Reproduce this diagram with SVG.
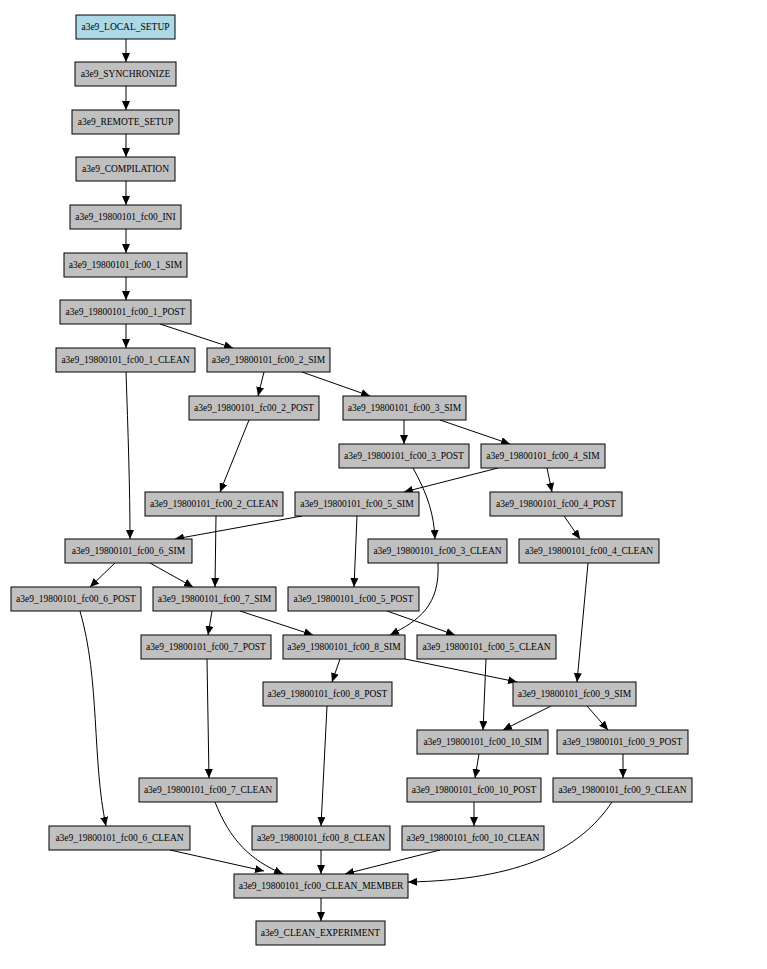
<svg xmlns="http://www.w3.org/2000/svg" width="767" height="969" viewBox="0 0 767 969">
<style>
.n rect{fill:#c0c0c0;stroke:#000;stroke-width:1}
.n.s rect{fill:#add8e6}
.n text{font-family:"Liberation Serif",serif;font-size:9.5px;text-anchor:middle;dominant-baseline:central;fill:#000}
#edges path{fill:none;stroke:#000;stroke-width:1;marker-end:url(#a)}
</style>
<defs><marker id="a" markerUnits="userSpaceOnUse" markerWidth="10" markerHeight="8" refX="9" refY="4" orient="auto"><path d="M0,0 L9,4 L0,8 z" fill="#000"/></marker></defs>
<g id="edges">
<path d="M126,39 L126,62"/><path d="M126,86 L126,110"/><path d="M126,134 L126,157"/><path d="M126,181 L126,205"/><path d="M126,229 L126,253"/><path d="M126,277 L126,300"/><path d="M126,324 L126,348"/>
<path d="M160,324 L233,348"/>
<path d="M126,372 C128,430 130,490 130,539"/>
<path d="M264,372 L258,396"/>
<path d="M302,372 L370,396"/>
<path d="M404,420 L404,444"/>
<path d="M440,420 L510,444"/>
<path d="M249,420 L220,492"/>
<path d="M498,468 L404,492"/>
<path d="M547,468 L552,492"/>
<path d="M413,468 C428,495 434,515 435,539"/>
<path d="M302,516 L175,539"/>
<path d="M564,516 L580,539"/>
<path d="M216,516 L215,587"/>
<path d="M357,516 L354,587"/>
<path d="M115,563 L90,587"/>
<path d="M150,563 L193,587"/>
<path d="M588,563 L577,682"/>
<path d="M438,563 C440,605 420,620 390,635"/>
<path d="M212,611 L208,635"/>
<path d="M240,611 L313,635"/>
<path d="M387,611 L455,635"/>
<path d="M340,659 L332,682"/>
<path d="M405,659 L517,682"/>
<path d="M486,659 L483,730"/>
<path d="M551,706 L503,730"/>
<path d="M587,706 L608,730"/>
<path d="M80,611 C100,680 92,760 106,826"/>
<path d="M207,659 L209,778"/>
<path d="M327,706 L321,826"/>
<path d="M479,754 L475,778"/>
<path d="M623,754 L623,778"/>
<path d="M474,802 L474,826"/>
<path d="M215,802 C230,840 250,860 283,874"/>
<path d="M170,850 L264,871"/>
<path d="M321,850 L321,874"/>
<path d="M440,850 L345,874"/>
<path d="M612,802 C580,850 520,880 408,882"/>
<path d="M321,898 L321,921"/>
</g>
<g id="LOCAL_SETUP" class="n s"><rect x="76" y="15" width="99" height="24"/><text x="125.5" y="27">a3e9_LOCAL_SETUP</text></g>
<g id="SYNCHRONIZE" class="n"><rect x="75" y="62" width="101" height="24"/><text x="125.5" y="74">a3e9_SYNCHRONIZE</text></g>
<g id="REMOTE_SETUP" class="n"><rect x="72" y="110" width="107" height="24"/><text x="125.5" y="122">a3e9_REMOTE_SETUP</text></g>
<g id="COMPILATION" class="n"><rect x="76" y="157" width="99" height="24"/><text x="125.5" y="169">a3e9_COMPILATION</text></g>
<g id="INI" class="n"><rect x="70" y="205" width="111" height="24"/><text x="125.5" y="217">a3e9_19800101_fc00_INI</text></g>
<g id="SIM1" class="n"><rect x="64" y="253" width="123" height="24"/><text x="125.5" y="265">a3e9_19800101_fc00_1_SIM</text></g>
<g id="POST1" class="n"><rect x="60" y="300" width="131" height="24"/><text x="125.5" y="312">a3e9_19800101_fc00_1_POST</text></g>
<g id="CLEAN1" class="n"><rect x="56" y="348" width="139" height="24"/><text x="125.5" y="360">a3e9_19800101_fc00_1_CLEAN</text></g>
<g id="SIM2" class="n"><rect x="207" y="348" width="123" height="24"/><text x="268.5" y="360">a3e9_19800101_fc00_2_SIM</text></g>
<g id="POST2" class="n"><rect x="189" y="396" width="130" height="24"/><text x="254" y="408">a3e9_19800101_fc00_2_POST</text></g>
<g id="SIM3" class="n"><rect x="343" y="396" width="123" height="24"/><text x="404.5" y="408">a3e9_19800101_fc00_3_SIM</text></g>
<g id="POST3" class="n"><rect x="339" y="444" width="130" height="24"/><text x="404" y="456">a3e9_19800101_fc00_3_POST</text></g>
<g id="SIM4" class="n"><rect x="481" y="444" width="124" height="24"/><text x="543" y="456">a3e9_19800101_fc00_4_SIM</text></g>
<g id="CLEAN2" class="n"><rect x="145" y="492" width="138" height="24"/><text x="214" y="504">a3e9_19800101_fc00_2_CLEAN</text></g>
<g id="SIM5" class="n"><rect x="295" y="492" width="124" height="24"/><text x="357" y="504">a3e9_19800101_fc00_5_SIM</text></g>
<g id="POST4" class="n"><rect x="490" y="492" width="132" height="24"/><text x="556" y="504">a3e9_19800101_fc00_4_POST</text></g>
<g id="SIM6" class="n"><rect x="65" y="539" width="127" height="24"/><text x="128.5" y="551">a3e9_19800101_fc00_6_SIM</text></g>
<g id="CLEAN3" class="n"><rect x="368" y="539" width="139" height="24"/><text x="437.5" y="551">a3e9_19800101_fc00_3_CLEAN</text></g>
<g id="CLEAN4" class="n"><rect x="519" y="539" width="140" height="24"/><text x="589" y="551">a3e9_19800101_fc00_4_CLEAN</text></g>
<g id="POST6" class="n"><rect x="11" y="587" width="130" height="24"/><text x="76" y="599">a3e9_19800101_fc00_6_POST</text></g>
<g id="SIM7" class="n"><rect x="153" y="587" width="123" height="24"/><text x="214.5" y="599">a3e9_19800101_fc00_7_SIM</text></g>
<g id="POST5" class="n"><rect x="288" y="587" width="131" height="24"/><text x="353.5" y="599">a3e9_19800101_fc00_5_POST</text></g>
<g id="POST7" class="n"><rect x="141" y="635" width="130" height="24"/><text x="206" y="647">a3e9_19800101_fc00_7_POST</text></g>
<g id="SIM8" class="n"><rect x="283" y="635" width="122" height="24"/><text x="344" y="647">a3e9_19800101_fc00_8_SIM</text></g>
<g id="CLEAN5" class="n"><rect x="417" y="635" width="139" height="24"/><text x="486.5" y="647">a3e9_19800101_fc00_5_CLEAN</text></g>
<g id="POST8" class="n"><rect x="263" y="682" width="129" height="24"/><text x="327.5" y="694">a3e9_19800101_fc00_8_POST</text></g>
<g id="SIM9" class="n"><rect x="513" y="682" width="123" height="24"/><text x="574.5" y="694">a3e9_19800101_fc00_9_SIM</text></g>
<g id="SIM10" class="n"><rect x="417" y="730" width="131" height="24"/><text x="482.5" y="742">a3e9_19800101_fc00_10_SIM</text></g>
<g id="POST9" class="n"><rect x="557" y="730" width="131" height="24"/><text x="622.5" y="742">a3e9_19800101_fc00_9_POST</text></g>
<g id="CLEAN7" class="n"><rect x="139" y="778" width="138" height="24"/><text x="208" y="790">a3e9_19800101_fc00_7_CLEAN</text></g>
<g id="POST10" class="n"><rect x="407" y="778" width="134" height="24"/><text x="474" y="790">a3e9_19800101_fc00_10_POST</text></g>
<g id="CLEAN9" class="n"><rect x="553" y="778" width="139" height="24"/><text x="622.5" y="790">a3e9_19800101_fc00_9_CLEAN</text></g>
<g id="CLEAN6" class="n"><rect x="49" y="826" width="141" height="24"/><text x="119.5" y="838">a3e9_19800101_fc00_6_CLEAN</text></g>
<g id="CLEAN8" class="n"><rect x="252" y="826" width="138" height="24"/><text x="321" y="838">a3e9_19800101_fc00_8_CLEAN</text></g>
<g id="CLEAN10" class="n"><rect x="402" y="826" width="142" height="24"/><text x="473" y="838">a3e9_19800101_fc00_10_CLEAN</text></g>
<g id="CLEAN_MEMBER" class="n"><rect x="234" y="874" width="174" height="24"/><text x="321" y="886">a3e9_19800101_fc00_CLEAN_MEMBER</text></g>
<g id="CLEAN_EXPERIMENT" class="n"><rect x="256" y="921" width="129" height="24"/><text x="320.5" y="933">a3e9_CLEAN_EXPERIMENT</text></g>
</svg>
